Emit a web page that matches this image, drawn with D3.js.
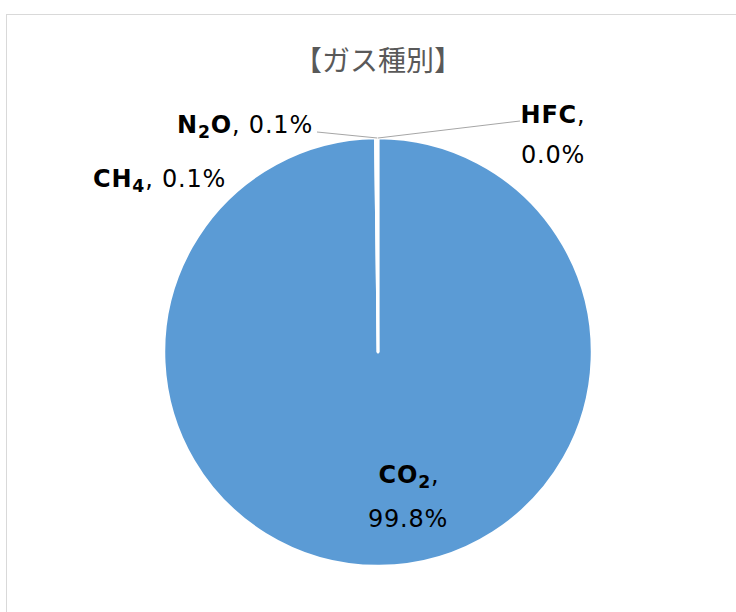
<!DOCTYPE html>
<html>
<head>
<meta charset="utf-8">
<script src="https://cdn.jsdelivr.net/npm/d3@7"></script>
<style>
  html, body { margin: 0; padding: 0; background: #fff; }
  svg { display: block; }
</style>
</head>
<body>
<svg id="chart" width="736" height="612"></svg>
<script>
// Emission shares by gas type (%)
const gases = ["CO2", "CH4", "N2O", "HFC"];
const shares = [99.8, 0.1, 0.1, 0.0];
const shareLabels = ["99.8%", "0.1%", "0.1%", "0.0%"];
const colors = ["#5b9bd5", "#ed7d31", "#a5a5a5", "#ffc000"];
const title = "【ガス種別】";

const svg = d3.select("#chart");
const cx = 378, cy = 352, R = 214;

// chart frame
svg.append("rect")
  .attr("x", 6.5).attr("y", 14.5)
  .attr("width", 900).attr("height", 800)
  .attr("fill", "#fff").attr("stroke", "#d9d9d9").attr("stroke-width", 1);

// title
svg.append("text")
  .attr("x", 378).attr("y", 71)
  .attr("text-anchor", "middle")
  .attr("font-family", "'Noto Sans CJK JP', 'Noto Sans', sans-serif")
  .attr("font-size", 28)
  .attr("fill", "#595959")
  .text(title);

const data = gases.map((g, i) => ({ gas: g, value: shares[i], label: shareLabels[i], color: colors[i] }));

const pie = d3.pie().value(d => d.value).sort(null).startAngle(0).endAngle(2 * Math.PI);
const arc = d3.arc().innerRadius(0).outerRadius(R);
const arcs = pie(data);

const g = svg.append("g").attr("transform", `translate(${cx},${cy})`);
g.selectAll("path.slice")
  .data(arcs)
  .join("path")
  .attr("class", "slice")
  .attr("d", arc)
  .attr("fill", d => d.data.color)
  .attr("stroke", "#fff")
  .attr("stroke-width", 2.5)
  .attr("stroke-linejoin", "round");

// leader lines from the small slices to their labels
const byGas = Object.fromEntries(arcs.map(a => [a.data.gas, a]));
function edgePoint(a) {
  const ang = (a.startAngle + a.endAngle) / 2;
  return [cx + R * Math.sin(ang), cy - R * Math.cos(ang)];
}
const leaders = [
  { gas: "N2O", to: [317, 132] },
  { gas: "HFC", to: [520, 121] }
];
leaders.forEach(l => {
  const p = edgePoint(byGas[l.gas]);
  svg.append("polyline")
    .attr("points", [l.to, p].map(q => q.join(",")).join(" "))
    .attr("fill", "none")
    .attr("stroke", "#a6a6a6")
    .attr("stroke-width", 1);
});

// data labels: bold gas name with subscript digits, then the share
const fontFam = "'DejaVu Sans', Verdana, sans-serif";
const FS = 24;
const SUB = 5;
function gasName(sel, name) {
  const parts = [];
  name.replace(/([A-Za-z]+)|(\d+)/g, (s, letters, digits) => {
    parts.push({ t: s, sub: !!digits });
  });
  parts.forEach((p, i) => {
    const t = sel.append("tspan").attr("font-weight", "bold").text(p.t);
    if (p.sub) t.attr("font-size", FS * 0.72).attr("dy", SUB);
    else if (i > 0 && parts[i - 1].sub) t.attr("dy", -SUB);
  });
  const comma = sel.append("tspan").text(",");
  if (parts[parts.length - 1].sub) comma.attr("dy", -SUB);
}

function labelText(x, y, anchor) {
  return svg.append("text")
    .attr("x", x).attr("y", y)
    .attr("text-anchor", anchor)
    .attr("font-family", fontFam)
    .attr("font-size", FS)
    .attr("letter-spacing", 0.8)
    .attr("fill", "#000");
}

// N2O (single line, right-aligned at the leader)
{
  const t = labelText(313, 133, "end");
  gasName(t, "N2O");
  t.append("tspan").text(" " + byGas["N2O"].data.label);
}
// CH4 (single line)
{
  const t = labelText(93, 187, "start");
  gasName(t, "CH4");
  t.append("tspan").text(" " + byGas["CH4"].data.label);
}
// HFC (two lines)
{
  const t = labelText(553, 123, "middle");
  gasName(t, "HFC");
  labelText(553, 163, "middle").text(byGas["HFC"].data.label);
}
// CO2 (two lines, inside the slice)
{
  const t = labelText(409, 483, "middle");
  gasName(t, "CO2");
  labelText(408, 527, "middle").text(byGas["CO2"].data.label);
}
</script>
</body>
</html>
